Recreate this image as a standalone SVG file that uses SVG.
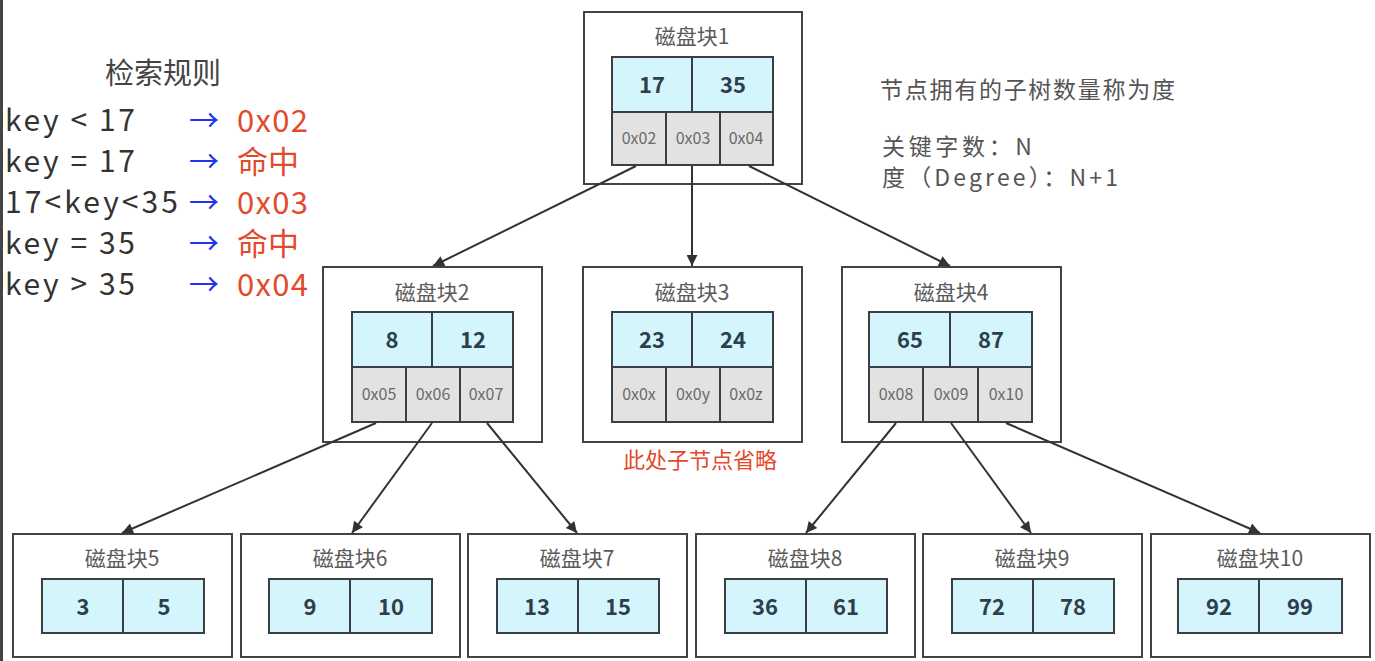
<svg xmlns="http://www.w3.org/2000/svg" width="1375" height="661" viewBox="0 0 1375 661">
<style>
text{font-family:"Noto Sans CJK SC","Noto Sans",sans-serif}
.outer{fill:#fff;stroke:#444;stroke-width:2}
.key{fill:#d4f5fc;stroke:#3a3f44;stroke-width:2}
.ptr{fill:#e2e2e2;stroke:#3a3f44;stroke-width:2}
.title{font-size:21px;fill:#5a5a5a;text-anchor:middle}
.num{font-size:22px;font-weight:bold;fill:#2d3e4c;text-anchor:middle}
.p{font-size:16px;fill:#6a6a6a;text-anchor:middle}
.rule{font-size:30px;fill:#333}
.blue{font-size:30px;fill:#2233ee}
.red{font-size:31px;fill:#e34a2c}
.note{font-size:23px;fill:#555}
.conn line{stroke:#333;stroke-width:2;marker-end:url(#ah)}
</style>
<defs>
<marker id="ah" viewBox="0 0 10 10" refX="10" refY="5" markerWidth="13" markerHeight="11" markerUnits="userSpaceOnUse" orient="auto">
<path d="M0,0 L10,5 L0,10 z" fill="#333"/>
</marker>
</defs>
<rect x="0" y="0" width="1375" height="661" fill="#fff"/>
<rect x="0" y="0" width="3" height="661" fill="#444"/>

<g id="rules">
<text x="163" y="84" style="font-size:29px;fill:#444;text-anchor:middle">检索规则</text>
<text class="rule" x="5" y="131" textLength="130" lengthAdjust="spacing">key &lt; 17</text>
<text class="rule" x="5" y="172" textLength="130" lengthAdjust="spacing">key = 17</text>
<text class="rule" x="5" y="213" textLength="173" lengthAdjust="spacing">17&lt;key&lt;35</text>
<text class="rule" x="5" y="254" textLength="130" lengthAdjust="spacing">key = 35</text>
<text class="rule" x="5" y="295" textLength="130" lengthAdjust="spacing">key &gt; 35</text>
<text class="blue" x="189" y="131">→</text>
<text class="blue" x="189" y="172">→</text>
<text class="blue" x="189" y="213">→</text>
<text class="blue" x="189" y="254">→</text>
<text class="blue" x="189" y="295">→</text>
<text class="red" x="237" y="132" textLength="71">0x02</text>
<text class="red" x="237" y="173">命中</text>
<text class="red" x="237" y="214" textLength="71">0x03</text>
<text class="red" x="237" y="255">命中</text>
<text class="red" x="237" y="296" textLength="71">0x04</text>
</g>

<g id="notes">
<text class="note" x="880" y="98" textLength="295">节点拥有的子树数量称为度</text>
<text class="note" x="882" y="155" textLength="150" lengthAdjust="spacing">关键字数：N</text>
<text class="note" x="882" y="186" textLength="236" lengthAdjust="spacing">度（Degree）：N+1</text>
</g>

<g id="block1">
<rect class="outer" x="584" y="12" width="218" height="172"/>
<text class="title" x="692" y="44">磁盘块1</text>
<rect class="key" x="612" y="57" width="80" height="55"/>
<rect class="key" x="692" y="57" width="81" height="55"/>
<text class="num" x="652" y="93">17</text>
<text class="num" x="733" y="93">35</text>
<rect class="ptr" x="612" y="112" width="54" height="53"/>
<rect class="ptr" x="666" y="112" width="54" height="53"/>
<rect class="ptr" x="720" y="112" width="53" height="53"/>
<text class="p" x="639" y="144">0x02</text>
<text class="p" x="693" y="144">0x03</text>
<text class="p" x="746" y="144">0x04</text>
</g>

<g id="block2">
<rect class="outer" x="323" y="267" width="219" height="175"/>
<text class="title" x="432" y="300">磁盘块2</text>
<rect class="key" x="352" y="312" width="80" height="55"/>
<rect class="key" x="432" y="312" width="81" height="55"/>
<text class="num" x="392" y="348">8</text>
<text class="num" x="473" y="348">12</text>
<rect class="ptr" x="352" y="367" width="54" height="55"/>
<rect class="ptr" x="406" y="367" width="54" height="55"/>
<rect class="ptr" x="460" y="367" width="53" height="55"/>
<text class="p" x="379" y="400">0x05</text>
<text class="p" x="433" y="400">0x06</text>
<text class="p" x="486" y="400">0x07</text>
</g>

<g id="block3">
<rect class="outer" x="583" y="267" width="219" height="175"/>
<text class="title" x="692" y="300">磁盘块3</text>
<rect class="key" x="612" y="312" width="80" height="55"/>
<rect class="key" x="692" y="312" width="81" height="55"/>
<text class="num" x="652" y="348">23</text>
<text class="num" x="733" y="348">24</text>
<rect class="ptr" x="612" y="367" width="54" height="55"/>
<rect class="ptr" x="666" y="367" width="54" height="55"/>
<rect class="ptr" x="720" y="367" width="53" height="55"/>
<text class="p" x="639" y="400">0x0x</text>
<text class="p" x="693" y="400">0x0y</text>
<text class="p" x="746" y="400">0x0z</text>
<text x="700" y="468" style="font-size:22px;fill:#e34a2c;text-anchor:middle">此处子节点省略</text>
</g>

<g id="block4">
<rect class="outer" x="842" y="267" width="219" height="175"/>
<text class="title" x="951" y="300">磁盘块4</text>
<rect class="key" x="869" y="312" width="81" height="55"/>
<rect class="key" x="950" y="312" width="82" height="55"/>
<text class="num" x="910" y="348">65</text>
<text class="num" x="991" y="348">87</text>
<rect class="ptr" x="869" y="367" width="54" height="55"/>
<rect class="ptr" x="923" y="367" width="55" height="55"/>
<rect class="ptr" x="978" y="367" width="54" height="55"/>
<text class="p" x="896" y="400">0x08</text>
<text class="p" x="951" y="400">0x09</text>
<text class="p" x="1006" y="400">0x10</text>
</g>

<g id="block5">
<rect class="outer" x="13" y="534" width="219" height="123"/>
<text class="title" x="122" y="566">磁盘块5</text>
<rect class="key" x="42" y="579" width="81" height="54"/>
<rect class="key" x="123" y="579" width="81" height="54"/>
<text class="num" x="83" y="615">3</text>
<text class="num" x="164" y="615">5</text>
</g>

<g id="block6">
<rect class="outer" x="241" y="534" width="219" height="123"/>
<text class="title" x="350" y="566">磁盘块6</text>
<rect class="key" x="269" y="579" width="81" height="54"/>
<rect class="key" x="350" y="579" width="82" height="54"/>
<text class="num" x="310" y="615">9</text>
<text class="num" x="391" y="615">10</text>
</g>

<g id="block7">
<rect class="outer" x="468" y="534" width="219" height="123"/>
<text class="title" x="577" y="566">磁盘块7</text>
<rect class="key" x="497" y="579" width="81" height="54"/>
<rect class="key" x="578" y="579" width="81" height="54"/>
<text class="num" x="537" y="615">13</text>
<text class="num" x="618" y="615">15</text>
</g>

<g id="block8">
<rect class="outer" x="696" y="534" width="219" height="123"/>
<text class="title" x="805" y="566">磁盘块8</text>
<rect class="key" x="725" y="579" width="81" height="54"/>
<rect class="key" x="806" y="579" width="81" height="54"/>
<text class="num" x="765" y="615">36</text>
<text class="num" x="846" y="615">61</text>
</g>

<g id="block9">
<rect class="outer" x="923" y="534" width="219" height="123"/>
<text class="title" x="1032" y="566">磁盘块9</text>
<rect class="key" x="952" y="579" width="81" height="54"/>
<rect class="key" x="1033" y="579" width="81" height="54"/>
<text class="num" x="992" y="615">72</text>
<text class="num" x="1073" y="615">78</text>
</g>

<g id="block10">
<rect class="outer" x="1151" y="534" width="219" height="123"/>
<text class="title" x="1260" y="566">磁盘块10</text>
<rect class="key" x="1178" y="579" width="81" height="54"/>
<rect class="key" x="1259" y="579" width="83" height="54"/>
<text class="num" x="1219" y="615">92</text>
<text class="num" x="1300" y="615">99</text>
</g>

<g class="conn" id="connectors">
<line x1="636" y1="166" x2="433" y2="266"/>
<line x1="692" y1="166" x2="692" y2="266"/>
<line x1="749" y1="166" x2="950" y2="266"/>
<line x1="376" y1="423" x2="122" y2="533"/>
<line x1="432" y1="423" x2="352" y2="533"/>
<line x1="487" y1="423" x2="577" y2="533"/>
<line x1="896" y1="423" x2="806" y2="533"/>
<line x1="951" y1="423" x2="1031" y2="533"/>
<line x1="1006" y1="423" x2="1260" y2="533"/>
</g>
</svg>
